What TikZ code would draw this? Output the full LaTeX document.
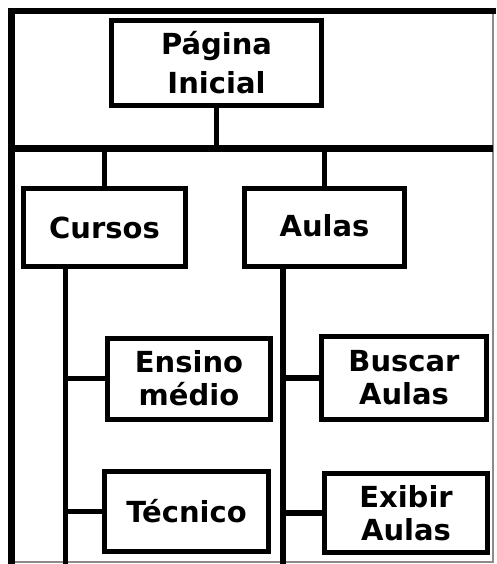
\documentclass[tikz,border=0pt]{standalone}
\usepackage{fontspec}
\setmainfont{DejaVu Sans}
\begin{document}
\begin{tikzpicture}[x=1pt,y=-1pt,
  box/.style={draw=black,line width=5pt,rectangle,inner sep=0pt,align=center,
    font=\bfseries\fontsize{29}{33}\selectfont},
  frame/.style={line width=6.5pt,black},
  conn/.style={line width=5.5pt,black},
  thin/.style={line width=1.2pt,black!45}]
\useasboundingbox (0,0) rectangle (496,564);
% nodes
\node[box,minimum width=210pt,minimum height=85pt,
  font=\bfseries\fontsize{29}{39}\selectfont] (pi) at (216.5,63) {Página\\Inicial};
\node[box,minimum width=162pt,minimum height=78pt] (cu) at (104.5,227.5) {Cursos};
\node[box,minimum width=160pt,minimum height=78pt] (au) at (324.5,227.5) {\raisebox{4pt}{Aulas}};
\node[box,minimum width=163pt,minimum height=81pt] (en) at (189,378.5) {Ensino\\médio};
\node[box,minimum width=165pt,minimum height=82.5pt] (bu) at (404,377.75) {Buscar\\Aulas};
\node[box,minimum width=164pt,minimum height=80pt] (te) at (186.5,511.5) {Técnico};
\node[box,minimum width=163pt,minimum height=79pt] (ex) at (406,513) {Exibir\\Aulas};
% coordinates
\coordinate (tl) at (11.5,11);
\coordinate (tr) at (496,11);
\coordinate (bl) at (11.5,564);
\coordinate (barl) at (11.5,148.5);
\coordinate (barr) at (493,148.5);
\coordinate (rt) at (493,11);
\coordinate (rb) at (493,562);
\coordinate (lb) at (11.5,562);
\coordinate (cub) at (65.5,564);
\coordinate (aub) at (283,564);
% frame
\draw[thin] (rt) -- (rb) -- (lb);
\draw[frame] (bl) -- (tl) -- (tr);
\draw[frame] (barl) -- (barr);
% connectors
\draw[conn] (pi.south) -- (pi.south |- barl);
\draw[conn] (cu.north |- barl) -- (cu.north);
\draw[conn] (au.north |- barl) -- (au.north);
\draw[conn] (cu.south -| cub) -- (cub);
\draw[conn] (au.south -| aub) -- (aub);
\draw[conn] (en.west -| cub) -- (en.west);
\draw[conn] (te.west -| cub) -- (te.west);
\draw[conn] (bu.west -| aub) -- (bu.west);
\draw[conn] (ex.west -| aub) -- (ex.west);
\end{tikzpicture}
\end{document}
